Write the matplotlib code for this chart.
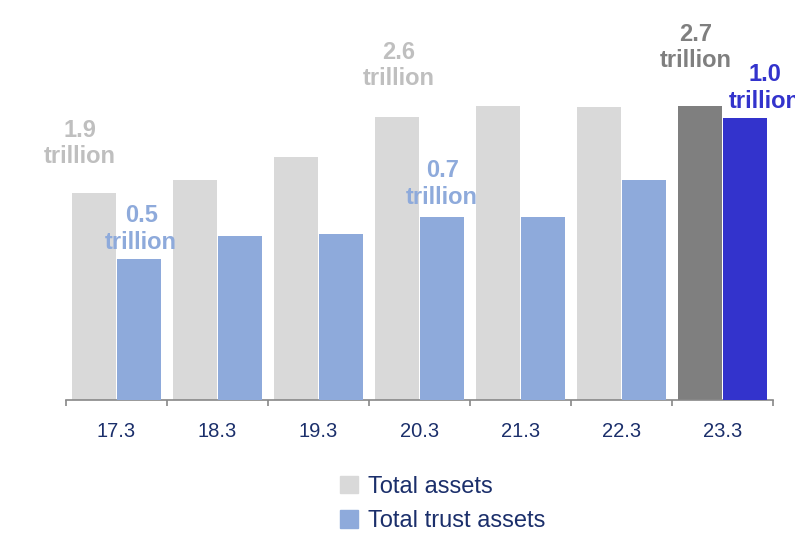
import matplotlib.pyplot as plt
from matplotlib.patches import Patch

# Fiscal periods and asset totals (trillions)
periods = ["17.3", "18.3", "19.3", "20.3", "21.3", "22.3", "23.3"]
total_assets = [1.9, 2.02, 2.23, 2.6, 2.70, 2.69, 2.7]
trust_assets = [0.5, 0.58, 0.59, 0.65, 0.65, 0.78, 1.0]

total_colors = ["#d9d9d9"] * 6 + ["#7f7f7f"]
trust_colors = ["#8eaadb"] * 6 + ["#3333cc"]

# callouts: (series, index, text, color, dx px, dy px)
callouts = [
    ("total", 0, "1.9\ntrillion", "#bfbfbf", -14, 25),
    ("trust", 0, "0.5\ntrillion", "#8eaadb", 2, 5),
    ("total", 3, "2.6\ntrillion", "#bfbfbf", 2, 27),
    ("trust", 3, "0.7\ntrillion", "#8eaadb", 0, 8),
    ("total", 6, "2.7\ntrillion", "#7f7f7f", -4, 34),
    ("trust", 6, "1.0\ntrillion", "#3333cc", 20, 5),
]

plt.rcParams["font.family"] = ["Liberation Sans", "DejaVu Sans"]
navy = "#1b2f6b"

fig = plt.figure(figsize=(7.95, 5.33), dpi=100)
ax = fig.add_axes([66 / 795, 1 - 400 / 533, 707 / 795, 400 / 533])
ax2 = ax.twinx()

x = list(range(len(periods)))
w = 0.435
ax.bar([i - 0.225 for i in x], total_assets, w, color=total_colors)
ax2.bar([i + 0.225 for i in x], trust_assets, w, color=trust_colors)

ax.set_xlim(-0.5, len(periods) - 0.5)
ax.set_ylim(0, 400 / 108.8)
ax2.set_ylim(0, 400 / 282)

for a in (ax, ax2):
    for s in ("top", "right", "left"):
        a.spines[s].set_visible(False)
    a.set_yticks([])
ax2.spines["bottom"].set_visible(False)
ax.spines["bottom"].set_color("#888888")
ax.spines["bottom"].set_linewidth(1.2)

ax.set_xticks(x)
ax.set_xticklabels(periods, fontsize=14.5, color=navy)
ax.tick_params(axis="x", which="major", length=0, pad=16)
ax.set_xticks([i - 0.5 for i in range(len(periods) + 1)], minor=True)
ax.tick_params(axis="x", which="minor", length=4.5, width=1.2, color="#888888",
               direction="out")

for series, i, txt, col, dx, dy in callouts:
    if series == "total":
        a, xv, yv = ax, i - 0.225, total_assets[i]
    else:
        a, xv, yv = ax2, i + 0.225, trust_assets[i]
    a.annotate(txt, xy=(xv, yv), xytext=(dx * 0.72, dy * 0.72),
               textcoords="offset points", ha="center", va="bottom",
               fontsize=17, fontweight="bold", color=col, linespacing=1.2,
               annotation_clip=False)

handles = [Patch(color="#d9d9d9"), Patch(color="#8eaadb")]
leg = fig.legend(handles, ["Total assets", "Total trust assets"],
                 loc="upper left", bbox_to_anchor=(340 / 795, 1 - 476 / 533),
                 frameon=False, fontsize=17, borderpad=0, borderaxespad=0,
                 handlelength=0.76, handleheight=0.76, handletextpad=0.42,
                 labelspacing=0.52)
for t in leg.get_texts():
    t.set_color(navy)

fig.savefig("out.png", dpi=100)
